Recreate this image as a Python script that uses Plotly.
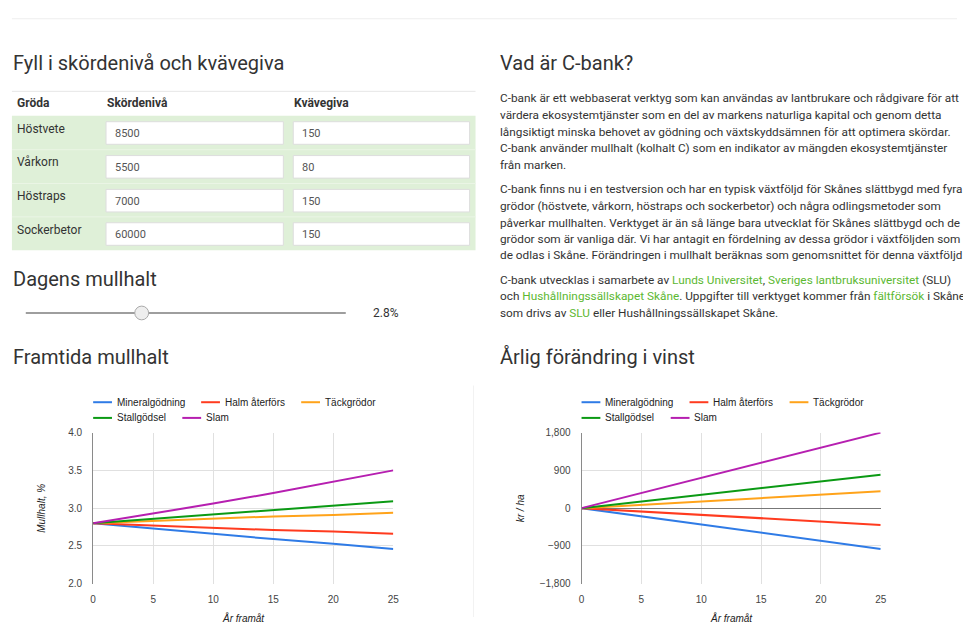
import plotly.graph_objects as go

W, H = 963, 623

# ---------------- data ----------------
years = [0, 5, 10, 15, 20, 25]
series_names = ["Mineralgödning", "Halm återförs", "Täckgrödor", "Stallgödsel", "Slam"]
series_colors = ["#2f7be6", "#ff3b1f", "#ffa31a", "#0b9a14", "#b61fb0"]

mullhalt_mineral = [2.80, 2.73, 2.66, 2.59, 2.53, 2.46]
mullhalt_halm = [2.80, 2.77, 2.74, 2.71, 2.69, 2.66]
mullhalt_tack = [2.80, 2.83, 2.86, 2.89, 2.91, 2.94]
mullhalt_stall = [2.80, 2.86, 2.91, 2.97, 3.03, 3.09]
mullhalt_slam = [2.80, 2.93, 3.06, 3.20, 3.35, 3.50]

vinst_mineral = [0, -195, -390, -585, -780, -975]
vinst_halm = [0, -80, -160, -240, -320, -400]
vinst_tack = [0, 80, 160, 240, 320, 400]
vinst_stall = [0, 160, 320, 475, 635, 795]
vinst_slam = [0, 360, 720, 1080, 1440, 1800]

mullhalt_ticks = [2.0, 2.5, 3.0, 3.5, 4.0]
vinst_ticks = [-1800, -900, 0, 900, 1800]
year_ticks = [0, 5, 10, 15, 20, 25]

crops = ["Höstvete", "Vårkorn", "Höstraps", "Sockerbetor"]
skordeniva = ["8500", "5500", "7000", "60000"]
kvavegiva = ["150", "80", "150", "150"]
table_headers = ["Gröda", "Skördenivå", "Kvävegiva"]
dagens_mullhalt = "2.8%"

LINK = "#5cb832"
def link(t):
    return f"<span style='color:{LINK}'>{t}</span>"

para1 = [
    "C-bank är ett webbaserat verktyg som kan användas av lantbrukare och rådgivare för att",
    "värdera ekosystemtjänster som en del av markens naturliga kapital och genom detta",
    "långsiktigt minska behovet av gödning och växtskyddsämnen för att optimera skördar.",
    "C-bank använder mullhalt (kolhalt C) som en indikator av mängden ekosystemtjänster",
    "från marken.",
]
para2 = [
    "C-bank finns nu i en testversion och har en typisk växtföljd för Skånes slättbygd med fyra",
    "grödor (höstvete, vårkorn, höstraps och sockerbetor) och några odlingsmetoder som",
    "påverkar mullhalten. Verktyget är än så länge bara utvecklat för Skånes slättbygd och de",
    "grödor som är vanliga där. Vi har antagit en fördelning av dessa grödor i växtföljden som",
    "de odlas i Skåne. Förändringen i mullhalt beräknas som genomsnittet för denna växtföljd.",
]
para3 = [
    "C-bank utvecklas i samarbete av " + link("Lunds Universitet") + ", " + link("Sveriges lantbruksuniversitet") + " (SLU)",
    "och " + link("Hushållningssällskapet Skåne") + ". Uppgifter till verktyget kommer från " + link("fältförsök") + " i Skåne",
    "som drivs av " + link("SLU") + " eller Hushållningssällskapet Skåne.",
]

# ---------------- helpers (page pixel -> paper) ----------------
def px(x):
    return x / W

def py(y):
    return 1 - y / H

PAGE_FONT = "Roboto, 'Helvetica Neue', Arial, sans-serif"
CHART_FONT = "'Liberation Sans', Arial, sans-serif"
TXT = "#333333"

shapes = []
annots = []

def text(x, y, s, size=12, color=TXT, anchor="left", family=PAGE_FONT, **kw):
    annots.append(dict(x=px(x), y=py(y), xref="paper", yref="paper", text=s,
                       showarrow=False, xanchor=anchor, yanchor="middle",
                       font=dict(size=size, color=color, family=family), **kw))

def line(x0, y0, x1, y1, color, width=1):
    shapes.append(dict(type="line", xref="paper", yref="paper",
                       x0=px(x0), y0=py(y0), x1=px(x1), y1=py(y1),
                       line=dict(color=color, width=width)))

def rect(x0, y0, x1, y1, fill, lc=None, lw=0):
    shapes.append(dict(type="rect", xref="paper", yref="paper",
                       x0=px(x0), y0=py(y0), x1=px(x1), y1=py(y1),
                       fillcolor=fill, line=dict(color=lc or fill, width=lw), layer="below"))

# ---------------- page elements ----------------
line(9, 13, 963, 13, "#eeeeee")

# Left column: table
text(8, 58, "Fyll i skördenivå och kvävegiva", size=20)
line(9, 87, 477, 87, "#e6e6e6")
for hx, h in zip([12, 103, 292], table_headers):
    text(hx, 99, f"<b>{h}</b>", size=12)
rect(9, 112, 477, 249, "#dff0d8")
row_tops = [112, 146.5, 181, 215]
for i, (c, s, k) in enumerate(zip(crops, skordeniva, kvavegiva)):
    t = row_tops[i]
    if i > 0:
        line(9, t, 477, t, "#eaf5e5")
    text(12, t + 13, c, size=12)
    rect(104, t + 6, 283, t + 29, "#ffffff", "#dddddd", 1)
    rect(293, t + 6, 471, t + 29, "#ffffff", "#dddddd", 1)
    text(111, t + 18, s, size=11, color="#555555")
    text(300, t + 18, k, size=11, color="#555555")

# slider
text(8, 278, "Dagens mullhalt", size=20)
line(23, 313, 346, 313, "#9e9e9e", 2)
shapes.append(dict(type="circle", xref="paper", yref="paper",
                   x0=px(133), y0=py(320), x1=px(147), y1=py(306),
                   fillcolor="#eeeeee", line=dict(color="#aaaaaa", width=1)))
text(371, 313, dagens_mullhalt, size=12)

# Right column text
text(500, 58, "Vad är C-bank?", size=20)
for ys, para in [([94, 111, 128, 145, 162], para1),
                 ([187, 204, 221, 238, 254], para2),
                 ([279, 296, 313], para3)]:
    for yy, ln in zip(ys, para):
        text(500, yy, ln, size=11.8)

# chart headings
text(8, 358, "Framtida mullhalt", size=20)
text(500, 358, "Årlig förändring i vinst", size=20)
line(475, 387, 475, 623, "#f2f2f2")

# ---------------- charts ----------------
fig = go.Figure()

left_data = [mullhalt_mineral, mullhalt_halm, mullhalt_tack, mullhalt_stall, mullhalt_slam]
right_data = [vinst_mineral, vinst_halm, vinst_tack, vinst_stall, vinst_slam]

for name, col, ys in zip(series_names, series_colors, left_data):
    fig.add_trace(go.Scatter(x=years, y=ys, mode="lines", name=name,
                             line=dict(color=col, width=2), xaxis="x", yaxis="y",
                             showlegend=False))
for name, col, ys in zip(series_names, series_colors, right_data):
    fig.add_trace(go.Scatter(x=years, y=ys, mode="lines", name=name,
                             line=dict(color=col, width=2), xaxis="x2", yaxis="y2",
                             showlegend=False))

# legends (Google-chart style, drawn manually)
legend_pos = [(91, 404), (200, 404), (301, 404), (91, 420), (181, 420)]
for off in (0, 493):
    for (lx, ly), name, col in zip(legend_pos, series_names, series_colors):
        line(lx + off, ly, lx + off + 19, ly, col, 2)
        text(lx + off + 22, ly, name, size=10, color="#222222", family=CHART_FONT)

# axis titles
text(38, 512, "<i>Mullhalt, %</i>", size=10, color="#222222", anchor="center",
     family=CHART_FONT, textangle=-90)
text(522, 512, "<i>kr / ha</i>", size=10, color="#222222", anchor="center",
     family=CHART_FONT, textangle=-90)
text(243, 624, "<i>År framåt</i>", size=10, color="#222222", anchor="center", family=CHART_FONT)
text(735, 624, "<i>År framåt</i>", size=10, color="#222222", anchor="center", family=CHART_FONT)

GRID = "#e0e0e0"
tickfont = dict(size=10, color="#444444", family=CHART_FONT)

common_x = dict(range=[0, 25], tickvals=year_ticks, showgrid=True, gridcolor=GRID,
                zeroline=False, showline=False, ticks="outside", ticklen=6,
                tickcolor="rgba(0,0,0,0)", tickfont=tickfont, fixedrange=True)

fig.update_layout(
    width=W, height=H, autosize=False,
    margin=dict(l=0, r=0, t=0, b=0),
    paper_bgcolor="white", plot_bgcolor="white",
    showlegend=False,
    xaxis=dict(domain=[px(91), px(394)], anchor="y", **common_x),
    yaxis=dict(domain=[py(589), py(435)], anchor="x", range=[2.0, 4.0],
               tickvals=mullhalt_ticks, tickformat=".1f", showgrid=True, gridcolor=GRID,
               zeroline=False, showline=True, linecolor="#8a8a8a", linewidth=1,
               ticks="outside", ticklen=8, tickcolor="rgba(0,0,0,0)", tickfont=tickfont,
               fixedrange=True),
    xaxis2=dict(domain=[px(584), px(886)], anchor="y2", **common_x),
    yaxis2=dict(domain=[py(589), py(435)], anchor="x2", range=[-1800, 1800],
                tickvals=vinst_ticks, tickformat=",", showgrid=True, gridcolor=GRID,
                zeroline=True, zerolinecolor="#777777", zerolinewidth=1,
                showline=True, linecolor="#8a8a8a", linewidth=1,
                ticks="outside", ticklen=8, tickcolor="rgba(0,0,0,0)", tickfont=tickfont,
                fixedrange=True),
    shapes=shapes,
    annotations=annots,
)

fig.write_html("out.html", config={"displayModeBar": False},
               post_script="document.body.style.margin='0';document.body.style.overflow='hidden';")
